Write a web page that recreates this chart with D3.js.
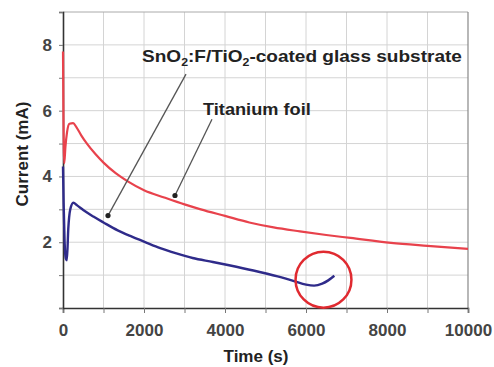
<!DOCTYPE html>
<html>
<head>
<meta charset="utf-8">
<script src="https://cdn.jsdelivr.net/npm/d3@7"></script>
<style>
  html, body { margin: 0; padding: 0; background: #fff; }
  svg { display: block; font-family: "Liberation Sans", Arial, sans-serif; }
</style>
</head>
<body>
<div id="chart"></div>
<script>
// ---- Data ----
const titaniumTime    = [0, 10, 30, 60, 100, 160, 250, 330, 450, 600, 800, 1000, 1300, 1600, 2000, 2500, 3000, 3400, 4000, 4600, 5200, 5850, 6500, 7100, 8100, 9000, 10000];
const titaniumCurrent = [7.8, 6.0, 4.4, 4.9, 5.35, 5.6, 5.62, 5.5, 5.25, 4.98, 4.68, 4.42, 4.1, 3.85, 3.58, 3.36, 3.15, 3.0, 2.8, 2.6, 2.45, 2.33, 2.22, 2.13, 1.98, 1.89, 1.8];

const glassTime    = [0, 15, 40, 70, 95, 130, 180, 255, 350, 500, 750, 1000, 1350, 1700, 2000, 2400, 2800, 3200, 3700, 4100, 4700, 5300, 5700, 6000, 6200, 6400, 6550, 6700];
const glassCurrent = [4.3, 3.2, 2.0, 1.5, 1.45, 2.4, 3.0, 3.2, 3.12, 2.98, 2.78, 2.6, 2.36, 2.17, 2.02, 1.82, 1.66, 1.52, 1.4, 1.3, 1.14, 0.96, 0.82, 0.71, 0.68, 0.74, 0.84, 0.98];

const xTickValues = [0, 2000, 4000, 6000, 8000, 10000];
const yTickValues = [2, 4, 6, 8];
const xGridValues = [1000, 2000, 3000, 4000, 5000, 6000, 7000, 8000, 9000];
const yGridValues = [1, 2, 3, 4, 5, 6, 7, 8];

// annotation anchors (data coordinates)
const glassLabel   = { t: 1951, i: 7.48, from: [3037, 7.11], to: [1111, 2.81] };
const titaniumLabel = { t: 3457, i: 5.86, from: [3679, 5.74], to: [2765, 3.42] };
const circleMark = { t: 6432, i: 0.86, rt: 690 };

// ---- Layout ----
const W = 494, H = 367;
const margin = { left: 63, right: 26, top: 12, bottom: 59 };

const svg = d3.select("#chart").append("svg").attr("width", W).attr("height", H);

const x = d3.scaleLinear().domain([0, 10000]).range([margin.left, W - margin.right]);
const y = d3.scaleLinear().domain([0, 9]).range([H - margin.bottom, margin.top]);

// gridlines
svg.append("g").selectAll("line").data(xGridValues).join("line")
  .attr("x1", d => x(d)).attr("x2", d => x(d))
  .attr("y1", y(0)).attr("y2", y(9))
  .attr("stroke", "#d4d4d4").attr("stroke-width", 1);
svg.append("g").selectAll("line").data(yGridValues).join("line")
  .attr("x1", x(0)).attr("x2", x(10000))
  .attr("y1", d => y(d)).attr("y2", d => y(d))
  .attr("stroke", "#d4d4d4").attr("stroke-width", 1);

// frame top/right
svg.append("line").attr("x1", x(0)).attr("x2", x(10000)).attr("y1", y(9)).attr("y2", y(9))
  .attr("stroke", "#aaa").attr("stroke-width", 1);
svg.append("line").attr("x1", x(10000)).attr("x2", x(10000)).attr("y1", y(9)).attr("y2", y(0))
  .attr("stroke", "#888").attr("stroke-width", 1.2);

// axes
const xAxis = d3.axisBottom(x).tickValues(d3.range(0, 10001, 1000)).tickSize(5)
  .tickFormat(d => xTickValues.includes(d) ? d : "");
const gx = svg.append("g").attr("transform", `translate(0,${y(0)})`).call(xAxis);
gx.select(".domain").attr("stroke", "#333").attr("stroke-width", 1.6);
gx.selectAll(".tick line").attr("stroke", "#777");
gx.selectAll(".tick text").attr("dy", "1.2em")
  .attr("font-size", 17).attr("font-weight", "bold").attr("fill", "#444")
  .attr("font-family", "Liberation Sans, Arial, sans-serif");

const yAxis = d3.axisLeft(y).tickValues(d3.range(0, 10, 1)).tickSize(4)
  .tickFormat(d => yTickValues.includes(d) ? d : "");
const gy = svg.append("g").attr("transform", `translate(${x(0)},0)`).call(yAxis);
gy.select(".domain").attr("stroke", "#333").attr("stroke-width", 1.6);
gy.selectAll(".tick line").attr("stroke", "#777");
gy.selectAll(".tick text").attr("x", -11)
  .attr("font-size", 17).attr("font-weight", "bold").attr("fill", "#444")
  .attr("font-family", "Liberation Sans, Arial, sans-serif");

// axis titles
svg.append("text").attr("x", 256).attr("y", 362).attr("text-anchor", "middle")
  .attr("font-size", 17).attr("font-weight", "bold").attr("fill", "#222")
  .text("Time (s)");
svg.append("text").attr("transform", "translate(28,154) rotate(-90)").attr("text-anchor", "middle")
  .attr("font-size", 17).attr("font-weight", "bold").attr("fill", "#222")
  .text("Current (mA)");

// curves
const line = d3.line().x(d => x(d[0])).y(d => y(d[1])).curve(d3.curveMonotoneX);
const redData = titaniumTime.map((t, k) => [t, titaniumCurrent[k]]);
const blueData = glassTime.map((t, k) => [t, glassCurrent[k]]);

svg.append("path").datum(redData).attr("d", line)
  .attr("fill", "none").attr("stroke", "#e8424c").attr("stroke-width", 2.2);
svg.append("path").datum(blueData).attr("d", line)
  .attr("fill", "none").attr("stroke", "#2f2b8a").attr("stroke-width", 2.4);

// circle highlight
const cr = x(circleMark.t + circleMark.rt) - x(circleMark.t);
svg.append("circle").attr("cx", x(circleMark.t)).attr("cy", y(circleMark.i)).attr("r", cr)
  .attr("fill", "none").attr("stroke", "#e02a30").attr("stroke-width", 2.5);

// annotation arrows
function arrow(a) {
  svg.append("line")
    .attr("x1", x(a.from[0])).attr("y1", y(a.from[1]))
    .attr("x2", x(a.to[0])).attr("y2", y(a.to[1]))
    .attr("stroke", "#555").attr("stroke-width", 1.3);
  svg.append("circle").attr("cx", x(a.to[0])).attr("cy", y(a.to[1])).attr("r", 2.6)
    .attr("fill", "#222");
}
arrow(glassLabel);
arrow(titaniumLabel);

// annotation labels
const t1 = svg.append("text")
  .attr("transform", `translate(${x(glassLabel.t)},${y(glassLabel.i)}) scale(1.12,1)`)
  .attr("font-size", 17).attr("font-weight", "bold").attr("fill", "#222");
t1.append("tspan").text("SnO");
t1.append("tspan").attr("font-size", 11).attr("dy", 4).text("2");
t1.append("tspan").attr("dy", -4).text(":F/TiO");
t1.append("tspan").attr("font-size", 11).attr("dy", 4).text("2");
t1.append("tspan").attr("dy", -4).text("-coated glass substrate");

svg.append("text")
  .attr("transform", `translate(${x(titaniumLabel.t)},${y(titaniumLabel.i)}) scale(1.07,1)`)
  .attr("font-size", 17).attr("font-weight", "bold").attr("fill", "#222")
  .text("Titanium foil");
</script>
</body>
</html>
